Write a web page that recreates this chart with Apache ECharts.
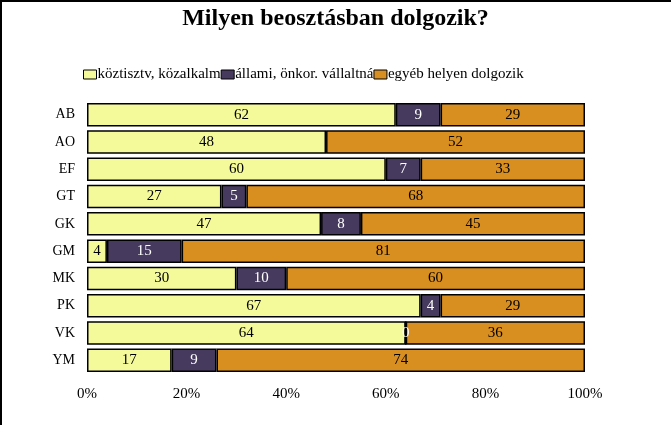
<!DOCTYPE html>
<html><head><meta charset="utf-8">
<script src="https://cdn.jsdelivr.net/npm/echarts@6/dist/echarts.min.js"></script>
<style>html,body{margin:0;padding:0;background:#fff}#c{width:671px;height:425px}</style>
</head><body><div id="c"></div>
<script>
const categories = ['AB','AO','EF','GT','GK','GM','MK','PK','VK','YM'];
const seriesNames = ['köztisztv, közalkalm','állami, önkor. vállaltná','egyéb helyen dolgozik'];
const kozalk = [62,48,60,27,47,4,30,67,64,17];
const allami = [9,0,7,5,8,15,10,4,0,9];
const egyeb = [29,52,33,68,45,81,60,29,36,74];
const colors = ['#F4F99A','#463A5E','#D98E20'];
const labelColors = ['#000','#fff','#000'];
const font = '"Liberation Serif","Times New Roman",serif';
const chart = echarts.init(document.getElementById('c'));
const dataSets = [kozalk, allami, egyeb];
chart.setOption({
  animation:false,
  title:{text:'Milyen beosztásban dolgozik?',left:'center',top:2,textStyle:{fontFamily:font,fontSize:24,fontWeight:'bold',color:'#000'}},
  legend:{left:78,top:62,icon:'rect',itemWidth:13,itemHeight:9,itemGap:0,textStyle:{fontFamily:font,fontSize:15,color:'#000',padding:[0,0,0,-4]},
    data:seriesNames.map(n=>({name:n,itemStyle:{borderColor:'#000',borderWidth:1}}))},
  grid:{left:87,right:86,top:101,bottom:51},
  xAxis:{type:'value',min:0,max:100,interval:20,
    axisLabel:{formatter:'{value}%',fontFamily:font,fontSize:15,color:'#000',margin:13},
    splitLine:{show:false},axisLine:{show:false},axisTick:{show:false}},
  yAxis:{type:'category',data:categories,inverse:true,
    axisLabel:{fontFamily:font,fontSize:14,color:'#000',margin:12},
    axisLine:{show:false},axisTick:{show:false}},
  series:dataSets.map((d,i)=>({
    name:seriesNames[i],type:'bar',stack:'t',barCategoryGap:'14%',
    data:d.map((v,j)=>(i===1 && v===0 && j===1)?null:v),
    itemStyle:{color:colors[i],borderColor:'#000',borderWidth:1.5},
    label:{show:true,position:'inside',fontFamily:font,fontSize:15,color:labelColors[i],
      formatter:p=>p.value==null?'':String(p.value)}
  })),
  graphic:[
    {type:'rect',shape:{x:0,y:0,width:671,height:2},style:{fill:'#000'}},
    {type:'rect',shape:{x:0,y:0,width:2,height:425},style:{fill:'#000'}}
  ]
});
</script></body></html>
